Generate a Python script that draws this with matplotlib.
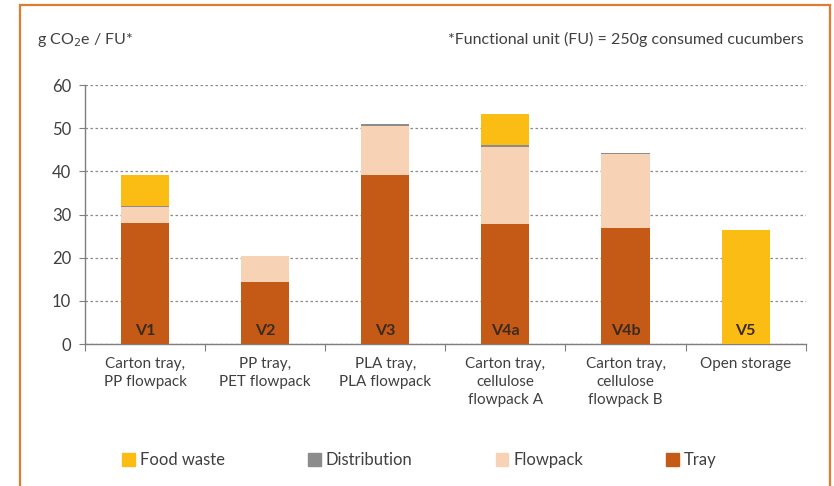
import matplotlib
matplotlib.use('Agg')
import matplotlib.pyplot as plt
from matplotlib.patches import Rectangle, Patch
import numpy as np

plt.rcParams['font.family'] = ['Lato', 'DejaVu Sans']

# data (g CO2e per functional unit)
categories = ['Carton tray,\nPP flowpack', 'PP tray,\nPET flowpack', 'PLA tray,\nPLA flowpack',
              'Carton tray,\ncellulose\nflowpack A', 'Carton tray,\ncellulose\nflowpack B', 'Open storage']
variants = ['V1', 'V2', 'V3', 'V4a', 'V4b', 'V5']
tray = [28.0, 14.4, 39.1, 27.8, 26.9, 0.0]
flowpack = [3.7, 5.9, 11.5, 17.9, 17.1, 0.0]
distribution = [0.3, 0.2, 0.3, 0.4, 0.3, 0.0]
food_waste = [7.1, 0.0, 0.0, 7.1, 0.0, 26.4]

C_FOOD = '#FBBC13'
C_DIST = '#8C8C8C'
C_FLOW = '#F8D2B4'
C_TRAY = '#C55A17'
TXT = '#404040'

fig = plt.figure(figsize=(8.34, 4.86), dpi=100)
ax = fig.add_axes([0.102, 0.292, 0.864, 0.533])

x = np.arange(len(categories))
w = 0.4
bottom = np.zeros(len(x))
for vals, col in [(tray, C_TRAY), (flowpack, C_FLOW), (distribution, C_DIST), (food_waste, C_FOOD)]:
    ax.bar(x, vals, w, bottom=bottom, color=col, zorder=3)
    bottom += np.array(vals)

for xi, v in zip(x, variants):
    ax.text(xi, 1.3, v, ha='center', va='bottom', fontsize=11.5, fontweight='bold', color='#3b2a1e', zorder=4)

ax.set_ylim(0, 60)
ax.set_xlim(-0.5, len(x) - 0.5)
ax.set_yticks(range(0, 61, 10))
ax.yaxis.grid(True, linestyle=(0, (2, 2)), color='#8a8a8a', linewidth=0.9, zorder=0)
ax.tick_params(axis='y', labelsize=12, colors=TXT, length=4, color='#7f7f7f', pad=6)

ax.set_xticks(np.arange(-0.5, len(x)), minor=False)
ax.set_xticklabels([])
ax.set_xticks(x, minor=True)
ax.set_xticklabels(categories, minor=True, fontsize=11, color=TXT, va='top', linespacing=1.4)
ax.tick_params(axis='x', which='major', length=5, color='#7f7f7f', direction='out')
ax.tick_params(axis='x', which='minor', length=0, pad=9)

for s in ['top', 'right']:
    ax.spines[s].set_visible(False)
for s in ['left', 'bottom']:
    ax.spines[s].set_color('#7f7f7f')
    ax.spines[s].set_linewidth(1)

fig.text(0.044, 0.918, 'g CO$_2$e / FU*', fontsize=11.5, color=TXT, ha='left', va='center')
fig.text(0.963, 0.918, '*Functional unit (FU) = 250g consumed cucumbers', fontsize=11.5,
         color=TXT, ha='right', va='center')

handles = [Patch(color=C_FOOD, label='Food waste'), Patch(color=C_DIST, label='Distribution'),
           Patch(color=C_FLOW, label='Flowpack'), Patch(color=C_TRAY, label='Tray')]
leg = fig.legend(handles=handles, loc='center', bbox_to_anchor=(0.503, 0.053), ncol=4, frameon=False,
                 fontsize=12, handlelength=0.75, handleheight=0.75, handletextpad=0.3, columnspacing=5.0)
for t in leg.get_texts():
    t.set_color(TXT)

# orange frame
fig.patches.append(Rectangle((20 / 834, -0.1), 810 / 834, 1.1 - 5 / 486, transform=fig.transFigure,
                             fill=False, edgecolor='#E07B2F', linewidth=1.6, zorder=0))

fig.savefig('out.png', dpi=100)
